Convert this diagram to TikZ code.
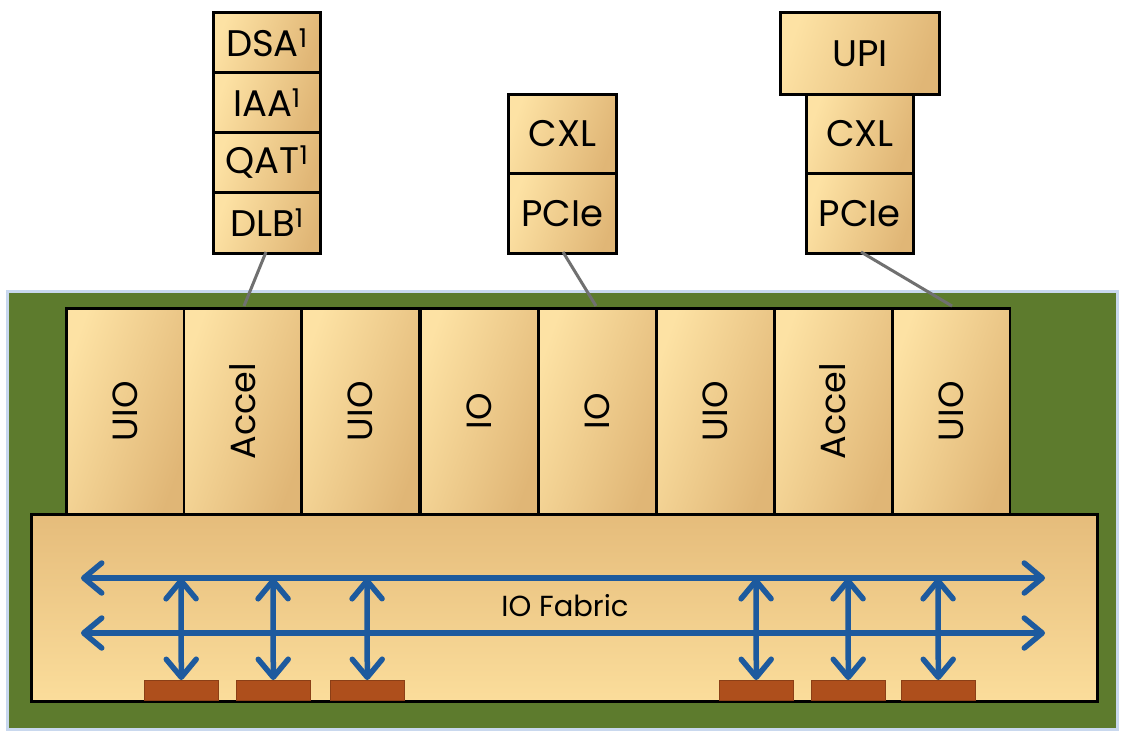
\documentclass[tikz,border=0pt]{standalone}
\usepackage{fontspec}
\setmainfont{Poppins}
\usetikzlibrary{arrows.meta}
\definecolor{tanlight}{HTML}{FDE2A4}
\definecolor{tandark}{HTML}{E0B676}
\definecolor{fabtop}{HTML}{E5BC7B}
\definecolor{fabbot}{HTML}{FBDD9B}
\definecolor{boardgreen}{HTML}{5D7B2D}
\definecolor{frameblue}{HTML}{C9D8EE}
\definecolor{busblue}{HTML}{1D5A9E}
\definecolor{padorange}{HTML}{AE4F1C}
\definecolor{linkgray}{HTML}{707070}
\tikzset{
  tanbox/.style={draw=black, line width=2.8pt, left color=tanlight, right color=tandark, shading angle=70, inner sep=0pt, anchor=north west, font=\fontsize{37}{40}\selectfont},
  modbox/.style={tanbox, line width=2.5pt, minimum width=117.5, minimum height=206},
  modtext/.style={rotate=90, font=\fontsize{35}{38}\selectfont},
  bus/.style={draw=busblue, line width=5.5pt, {Straight Barb[length=18pt,width=30pt,round]}-{Straight Barb[length=18pt,width=30pt,round]}},
  pad/.style={fill=padorange, draw=padorange!80!black, line width=0.6pt, minimum width=74, minimum height=20, inner sep=0pt, anchor=north west},
  link/.style={draw=linkgray, line width=3pt}
}
\begin{document}
\begin{tikzpicture}[x=1pt, y=-1pt]
\useasboundingbox[fill=white] (0,0) rectangle (1125,737);
% board
\node[draw=frameblue, line width=3pt, fill=boardgreen, minimum width=1110, minimum height=438, anchor=north west, inner sep=0pt] (board) at (6,290) {};
% fabric
\node[draw=black, line width=2.5pt, top color=fabtop, bottom color=fabbot, minimum width=1066, minimum height=187, anchor=north west, inner sep=0pt] (fabric) at (30,513) {};
% modules
\node[modbox] (m1) at (65,307) {};
\node[modbox] (m2) at (182.5,307) {};
\node[modbox] (m3) at (300,307) {};
\node[modbox] (m4) at (419,307) {};
\node[modbox] (m5) at (537,307) {};
\node[modbox] (m6) at (655,307) {};
\node[modbox] (m7) at (773,307) {};
\node[modbox] (m8) at (891,307) {};
\node[modtext] (t1) at (m1.center) {UIO};
\node[modtext] (t2) at (m2.center) {Accel};
\node[modtext] (t3) at (m3.center) {UIO};
\node[modtext] (t4) at (m4.center) {IO};
\node[modtext] (t5) at (m5.center) {IO};
\node[modtext] (t6) at (m6.center) {UIO};
\node[modtext] (t7) at (m7.center) {Accel};
\node[modtext] (t8) at (m8.center) {UIO};
% left stack
\node[tanbox, minimum width=107, minimum height=60] (dsa) at (212,11) {DSA\textsuperscript{1}};
\node[tanbox, minimum width=107, minimum height=60] (iaa) at (212,71) {IAA\textsuperscript{1}};
\node[tanbox, minimum width=107, minimum height=60] (qat) at (212,131) {QAT\textsuperscript{1}};
\node[tanbox, minimum width=107, minimum height=61] (dlb) at (212,191) {DLB\textsuperscript{1}};
% middle stack
\node[tanbox, minimum width=108, minimum height=79] (cxl1) at (507,93) {CXL};
\node[tanbox, minimum width=108, minimum height=80] (pcie1) at (507,172) {PCIe};
% right stack
\node[tanbox, minimum width=159, minimum height=82] (upi) at (779,11) {UPI};
\node[tanbox, minimum width=107, minimum height=79] (cxl2) at (805,93) {CXL};
\node[tanbox, minimum width=107, minimum height=80] (pcie2) at (805,172) {PCIe};
% links
\coordinate (l1a) at (266,252);
\coordinate (l1b) at (244,306);
\coordinate (l2a) at (563,252);
\coordinate (l2b) at (596,306);
\coordinate (l3a) at (861,252);
\coordinate (l3b) at (952,306);
\draw[link] (l1a) -- (l1b);
\draw[link] (l2a) -- (l2b);
\draw[link] (l3a) -- (l3b);
% pads
\node[pad] (p1) at (144,680) {};
\node[pad] (p2) at (236,680) {};
\node[pad] (p3) at (330,680) {};
\node[pad] (p4) at (719,680) {};
\node[pad] (p5) at (811,680) {};
\node[pad] (p6) at (901,680) {};
% buses
\coordinate (h1l) at (81,578);
\coordinate (h1r) at (1045,578);
\coordinate (h2l) at (81,633);
\coordinate (h2r) at (1045,633);
\draw[bus] (h1l) -- (h1r);
\draw[bus] (h2l) -- (h2r);
\coordinate (v1) at (181,578);
\coordinate (v2) at (273,578);
\coordinate (v3) at (367,578);
\coordinate (v4) at (756,578);
\coordinate (v5) at (848,578);
\coordinate (v6) at (938,578);
\draw[bus] (v1) -- (p1.north);
\draw[bus] (v2) -- (p2.north);
\draw[bus] (v3) -- (p3.north);
\draw[bus] (v4) -- (p4.north);
\draw[bus] (v5) -- (p5.north);
\draw[bus] (v6) -- (p6.north);
\node[font=\fontsize{29}{32}\selectfont, inner sep=0pt] (fablabel) at (565,606) {IO Fabric};
\end{tikzpicture}
\end{document}
